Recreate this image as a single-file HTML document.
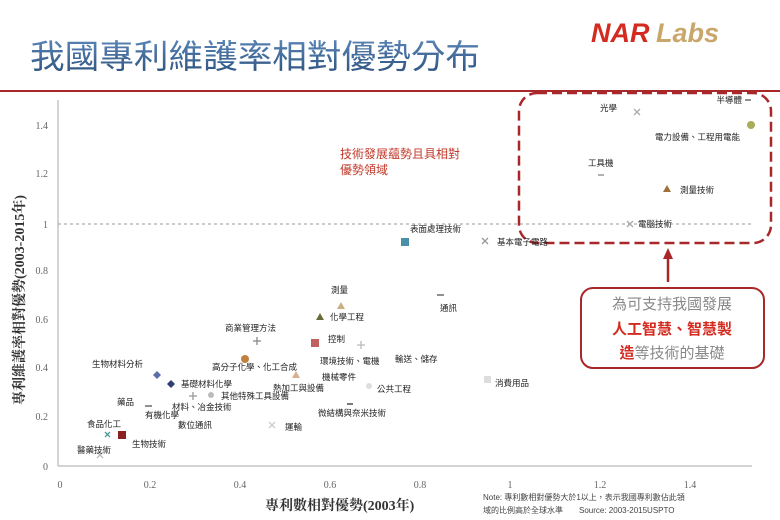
<!DOCTYPE html>
<html><head><meta charset="utf-8"><style>
body{margin:0;background:#fff;}
svg{display:block;font-family:"Liberation Sans","Noto Sans CJK TC",sans-serif;}
</style></head><body>
<svg width="780" height="520" viewBox="0 0 780 520" xmlns="http://www.w3.org/2000/svg">
<defs><linearGradient id="tg" x1="0" y1="0" x2="0" y2="1"><stop offset="0" stop-color="#5a86b8"/><stop offset="1" stop-color="#2d527e"/></linearGradient></defs>
<text x="30" y="68" font-size="33" fill="url(#tg)" textLength="450" lengthAdjust="spacingAndGlyphs" font-family="Liberation Sans,Noto Sans CJK TC,sans-serif">我國專利維護率相對優勢分布</text>
<text x="591" y="42" font-size="27" font-weight="bold" font-style="italic" fill="#d42a1f">NAR</text>
<text x="656" y="42" font-size="27" font-weight="bold" font-style="italic" fill="#c9a66b">Labs</text>
<line x1="0" y1="91" x2="780" y2="91" stroke="#a8282a" stroke-width="2"/>
<line x1="58" y1="100" x2="58" y2="466" stroke="#aaa" stroke-width="1"/>
<line x1="58" y1="466" x2="752" y2="466" stroke="#aaa" stroke-width="1"/>
<line x1="58" y1="224" x2="752" y2="224" stroke="#999" stroke-dasharray="3,3" stroke-width="1"/>
<g font-size="10" fill="#666" font-family="Liberation Serif,serif" text-anchor="end">
<text x="48" y="129">1.4</text><text x="48" y="177">1.2</text><text x="48" y="228">1</text><text x="48" y="274">0.8</text><text x="48" y="323">0.6</text><text x="48" y="371">0.4</text><text x="48" y="420">0.2</text><text x="48" y="470">0</text>
</g>
<g font-size="10" fill="#666" font-family="Liberation Serif,serif" text-anchor="middle">
<text x="60" y="488">0</text><text x="150" y="488">0.2</text><text x="240" y="488">0.4</text><text x="330" y="488">0.6</text><text x="420" y="488">0.8</text><text x="510" y="488">1</text><text x="600" y="488">1.2</text><text x="690" y="488">1.4</text>
</g>
<text transform="translate(24,300) rotate(-90)" font-size="14" font-weight="bold" fill="#333" text-anchor="middle" font-family="Liberation Serif,Noto Serif CJK SC,serif">專利維護率相對優勢(2003-2015年)</text>
<text x="265" y="510" font-size="14" font-weight="bold" fill="#333" font-family="Liberation Serif,Noto Serif CJK SC,serif">專利數相對優勢(2003年)</text>
<text x="483" y="500" font-size="8" fill="#444">Note: 專利數相對優勢大於1以上，表示我國專利數佔此領</text>
<text x="483" y="513" font-size="8" fill="#444">域的比例高於全球水準　　Source: 2003-2015USPTO</text>
<text x="340" y="158" font-size="12" fill="#c0392b">技術發展蘊勢且具相對</text>
<text x="340" y="174" font-size="12" fill="#c0392b">優勢領域</text>
<rect x="519" y="93" width="252" height="150" rx="18" fill="none" stroke="#a8282a" stroke-width="2.5" stroke-dasharray="10,5"/>
<line x1="668" y1="258" x2="668" y2="282" stroke="#a8282a" stroke-width="2.5"/>
<polygon points="668,248 663,259 673,259" fill="#a8282a"/>
<rect x="581" y="288" width="183" height="80" rx="12" fill="#fff" stroke="#a8282a" stroke-width="2"/>
<g font-size="15" text-anchor="middle">
<text x="672" y="309" fill="#888">為可支持我國發展</text>
<text x="672" y="334" fill="#d42a1f" font-weight="bold">人工智慧、智慧製</text>
<text x="672" y="358"><tspan fill="#d42a1f" font-weight="bold">造</tspan><tspan fill="#888">等技術的基礎</tspan></text>
</g>
<g stroke-width="1.3">
<line x1="745" y1="100" x2="751" y2="100" stroke="#555"/>
<circle cx="751" cy="125" r="4" fill="#a8ad5a"/>
<path d="M634 109l6 6M640 109l-6 6" stroke="#aaa"/>
<line x1="598" y1="175" x2="604" y2="175" stroke="#888"/>
<polygon points="667,185 671,192 663,192" fill="#a0703a"/>
<path d="M627 221l6 6M633 221l-6 6" stroke="#aaa"/>
<rect x="401" y="238" width="8" height="8" fill="#4a8fa8"/>
<path d="M482 238l6 6M488 238l-6 6" stroke="#999"/>
<line x1="437" y1="295" x2="444" y2="295" stroke="#555"/>
<polygon points="341,302 345,309 337,309" fill="#c8b080"/>
<polygon points="320,313 324,320 316,320" fill="#6b6b3a"/>
<rect x="311" y="339" width="8" height="8" fill="#c06060"/>
<path d="M361 341v8M357 345h8" stroke="#bbb"/>
<path d="M257 337v8M253 341h8" stroke="#888"/>
<path d="M157 371l4 4-4 4-4-4z" fill="#5a6ea8"/>
<circle cx="245" cy="359" r="4" fill="#c08040"/>
<polygon points="296,371 300,378 292,378" fill="#d8b090"/>
<rect x="484" y="376" width="7" height="7" fill="#ddd"/>
<path d="M171 380l4 4-4 4-4-4z" fill="#2d3e6e"/>
<circle cx="369" cy="386" r="3" fill="#ddd"/>
<circle cx="211" cy="395" r="3" fill="#bbb"/>
<path d="M193 392v8M189 396h8" stroke="#999"/>
<line x1="145" y1="406" x2="152" y2="406" stroke="#555"/>
<line x1="347" y1="404" x2="353" y2="404" stroke="#333"/>
<path d="M269 422l6 6M275 422l-6 6" stroke="#ccc"/>
<path d="M105 432l5 5M110 432l-5 5" stroke="#4a9a9a"/>
<rect x="118" y="431" width="8" height="8" fill="#8a2020"/>
<path d="M97 452l6 6M103 452l-6 6" stroke="#bbb"/>
</g>
<g font-size="8.5" fill="#222">
<text x="742" y="103" text-anchor="end">半導體</text>
<text x="600" y="111">光學</text>
<text x="655" y="140">電力設備、工程用電能</text>
<text x="588" y="166">工具機</text>
<text x="680" y="193">測量技術</text>
<text x="638" y="227">電腦技術</text>
<text x="410" y="232">表面處理技術</text>
<text x="497" y="245">基本電子電路</text>
<text x="440" y="311">通訊</text>
<text x="331" y="293">測量</text>
<text x="330" y="320">化學工程</text>
<text x="328" y="342">控制</text>
<text x="225" y="331">商業管理方法</text>
<text x="92" y="367">生物材料分析</text>
<text x="212" y="370">高分子化學、化工合成</text>
<text x="320" y="364">環境技術、電機</text>
<text x="395" y="362">輸送、儲存</text>
<text x="322" y="380">機械零件</text>
<text x="495" y="386">消費用品</text>
<text x="181" y="387">基礎材料化學</text>
<text x="273" y="391">熱加工與設備</text>
<text x="377" y="392">公共工程</text>
<text x="221" y="399">其他特殊工具設備</text>
<text x="172" y="410">材料、冶金技術</text>
<text x="117" y="405">藥品</text>
<text x="145" y="418">有機化學</text>
<text x="318" y="416">微結構與奈米技術</text>
<text x="178" y="428">數位通訊</text>
<text x="285" y="430">運輸</text>
<text x="87" y="427">食品化工</text>
<text x="132" y="447">生物技術</text>
<text x="77" y="453">醫藥技術</text>
</g>
</svg>
</body></html>
